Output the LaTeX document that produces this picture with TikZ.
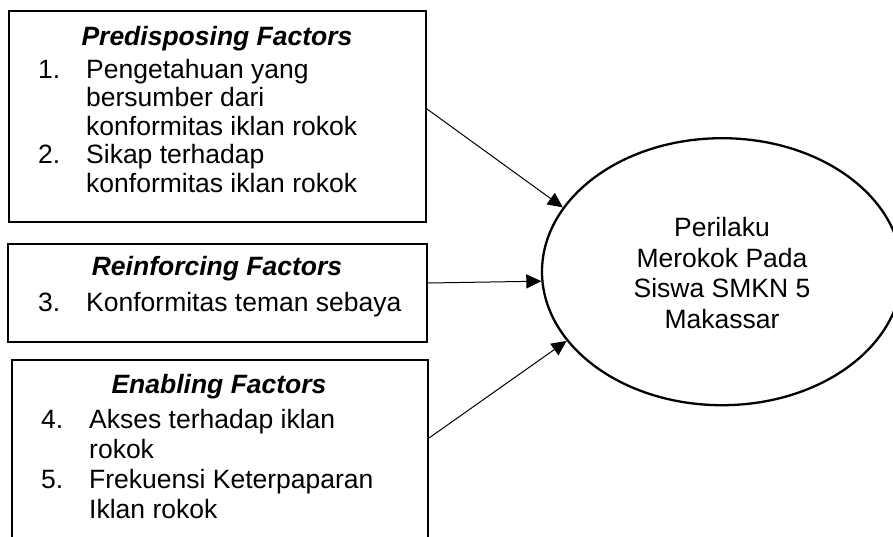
\documentclass[tikz,border=0pt]{standalone}
\usepackage{fontspec}
\setmainfont{Liberation Sans}
\usetikzlibrary{shapes.geometric,arrows.meta}
\tikzset{
  box/.style={draw, line width=2pt, rectangle, anchor=north west, inner sep=0pt},
  txt/.style={inner sep=0pt, anchor=base west, font=\fontsize{26.5}{30}\selectfont},
  ttl/.style={inner sep=0pt, anchor=base, font=\fontsize{26.5}{30}\selectfont\bfseries\itshape},
  ctxt/.style={inner sep=0pt, anchor=base, font=\fontsize{26.5}{30}\selectfont},
  arr/.style={line width=1pt, -{Triangle[length=15pt,width=14pt]}},
}
\begin{document}
\begin{tikzpicture}[x=1pt,y=-1pt]
\clip (0,0) rectangle (893,536);
\fill[white] (0,0) rectangle (893,536);
% boxes
\node[box, minimum width=417pt, minimum height=211pt] (b1) at (8,10) {};
\node[box, minimum width=419pt, minimum height=98pt] (b2) at (7,243) {};
\node[box, minimum width=416pt, minimum height=186pt] (b3) at (11,359) {};
% ellipse
\node[draw, ellipse, line width=2.3pt, minimum width=360pt, minimum height=267pt, inner sep=0pt] (ell) at (722,271.7) {};
% box 1 text
\node[ttl] (t1) at (217,45) {Predisposing Factors};
\node[txt] (n1) at (38,78) {1.};
\node[txt] (l11) at (86,78) {Pengetahuan yang};
\node[txt] (l12) at (86,106.5) {bersumber dari};
\node[txt] (l13) at (86,135) {konformitas iklan rokok};
\node[txt] (n2) at (38,163.5) {2.};
\node[txt] (l21) at (86,163.5) {Sikap terhadap};
\node[txt] (l22) at (86,192) {konformitas iklan rokok};
% box 2 text
\node[ttl] (t2) at (217,275) {Reinforcing Factors};
\node[txt] (n3) at (38,311) {3.};
\node[txt] (l31) at (86,311) {Konformitas teman sebaya};
% box 3 text
\node[ttl] (t3) at (219,393) {Enabling Factors};
\node[txt] (n4) at (41,428) {4.};
\node[txt] (l41) at (89,428) {Akses terhadap iklan};
\node[txt] (l42) at (89,458.5) {rokok};
\node[txt] (n5) at (41,488) {5.};
\node[txt] (l51) at (89,488) {Frekuensi Keterpaparan};
\node[txt] (l52) at (89,518) {Iklan rokok};
% ellipse text
\node[ctxt] (e1) at (722,236) {Perilaku};
\node[ctxt] (e2) at (722,267) {Merokok Pada};
\node[ctxt] (e3) at (722,297.5) {Siswa SMKN 5};
\node[ctxt] (e4) at (722,328) {Makassar};
% arrows
\draw[arr] ([yshift=7.5pt]b1.east) -- (ell.158.5);
\draw[arr] ([yshift=10pt]b2.east) -- (ell.183.3);
\draw[arr] ([yshift=15pt]b3.east) -- (ell.204.5);
\end{tikzpicture}
\end{document}
